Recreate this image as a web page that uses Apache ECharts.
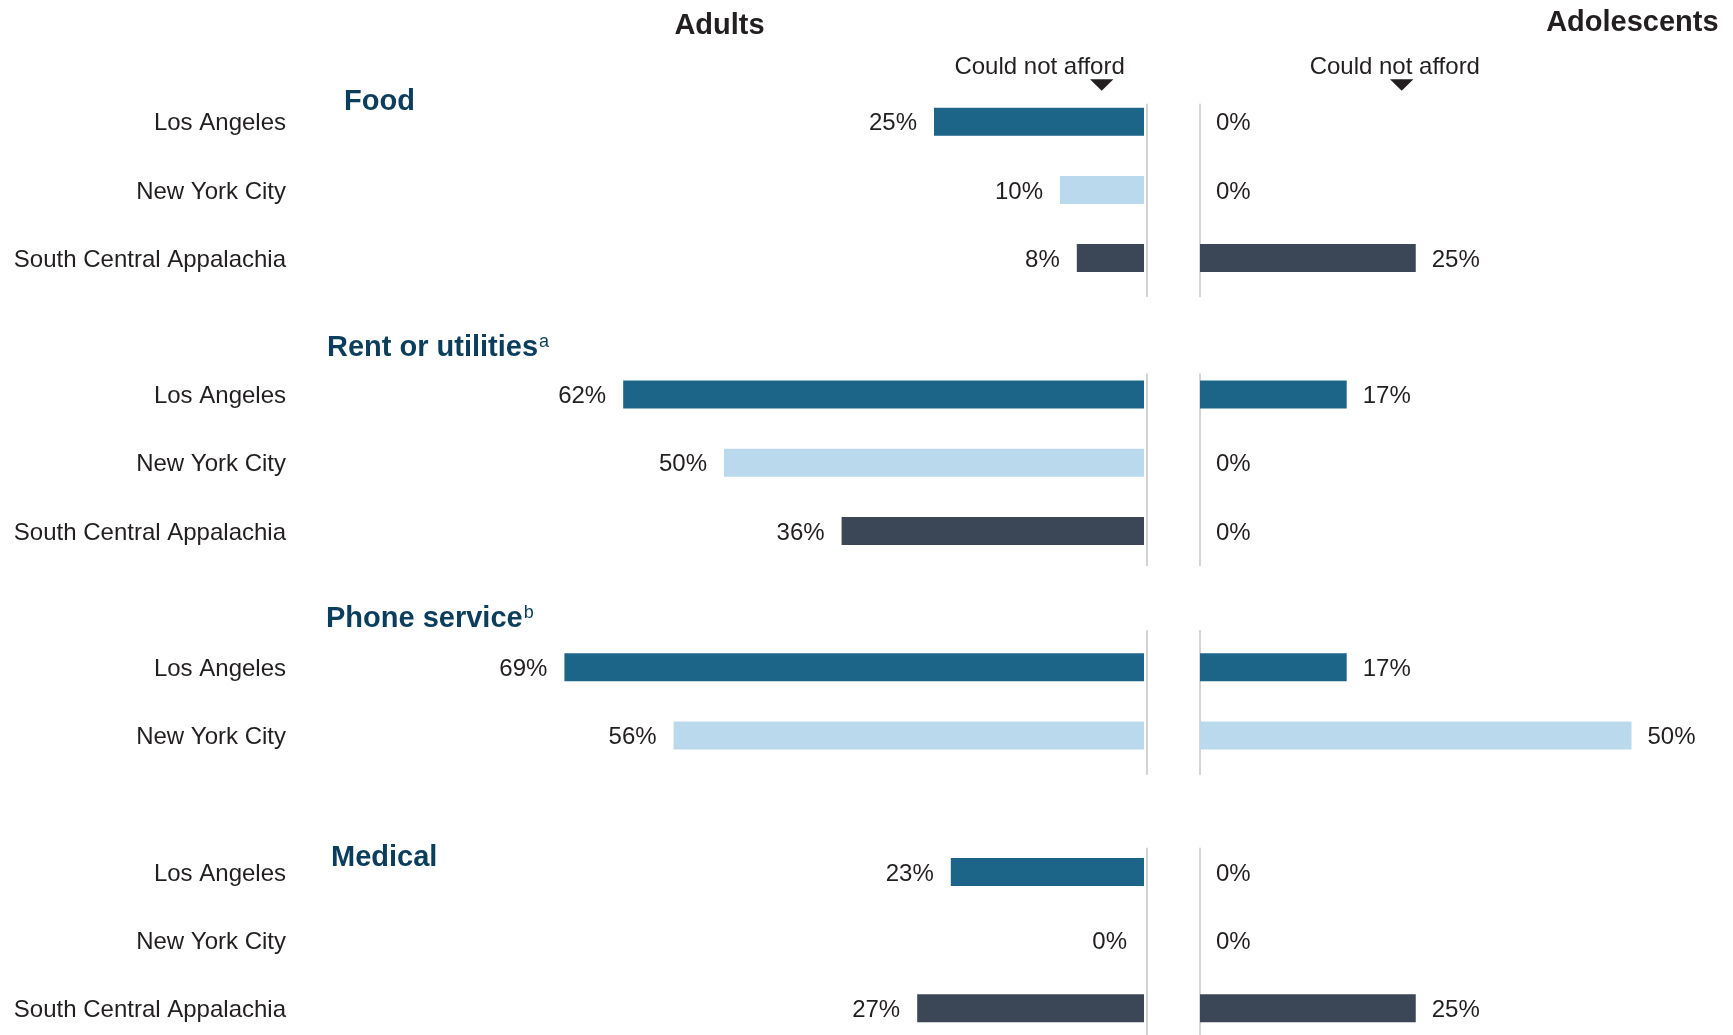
<!DOCTYPE html>
<html>
<head>
<meta charset="utf-8">
<style>
  html, body { margin: 0; padding: 0; background: #ffffff; }
  #chart { width: 1733px; height: 1035px; }
</style>
<script src="https://cdn.jsdelivr.net/npm/echarts@6/dist/echarts.min.js"></script>
</head>
<body>
<div id="chart"></div>
<script>
// ---------------- Data ----------------
const groupNames = ['Food', 'Rent or utilities', 'Phone service', 'Medical'];
const groupNotes = ['', 'a', 'b', ''];
const citiesFull = ['Los Angeles', 'New York City', 'South Central Appalachia'];
const citiesPhone = ['Los Angeles', 'New York City'];

const adultsFood = [25, 10, 8];
const adolescentsFood = [0, 0, 25];
const adultsRent = [62, 50, 36];
const adolescentsRent = [17, 0, 0];
const adultsPhone = [69, 56];
const adolescentsPhone = [17, 50];
const adultsMedical = [23, 0, 27];
const adolescentsMedical = [0, 0, 25];

const panelTitles = ['Adults', 'Adolescents'];
const markerText = 'Could not afford';

// ---------------- Styles / layout ----------------
const cityColors = {
  'Los Angeles': '#1d6489',
  'New York City': '#bad9ed',
  'South Central Appalachia': '#3b4657'
};
const FONT = '"Liberation Sans", Arial, Helvetica, sans-serif';
const TEXT = '#231f20';
const TITLE_BLUE = '#0b3d5c';
const LINE = '#c9c9c9';

const groups = [
  { cats: citiesFull, adults: adultsFood, adol: adolescentsFood, startRow: 0, line: [104.3, 296.5], title: [344, 102.3] },
  { cats: citiesFull, adults: adultsRent, adol: adolescentsRent, startRow: 4, line: [374, 565.5], title: [327, 348.4] },
  { cats: citiesPhone, adults: adultsPhone, adol: adolescentsPhone, startRow: 8, line: [630.7, 774.3], title: [326, 619.2] },
  { cats: citiesFull, adults: adultsMedical, adol: adolescentsMedical, startRow: 11, line: [848.3, 1060], title: [331, 857.8] }
];

const ROW = 68.2;
const ROW0_TOP = 87.6;
const ADULT_ZERO = 1144;      // pixel x of adults' zero
const ADULT_PX = 8.4;         // px per percent
const ADULT_MAX = 100;
const ADOL_ZERO = 1200;
const ADOL_PX = 8.63;
const ADOL_MAX = 60;
const ADULT_LINE_X = 1146.6;
const ADOL_LINE_X = 1199.3;

const grid = [], xAxis = [], yAxis = [], series = [];

groups.forEach((g, gi) => {
  const top = ROW0_TOP + g.startRow * ROW;
  const height = g.cats.length * ROW;
  const adultLeft = ADULT_ZERO - ADULT_MAX * ADULT_PX;

  // adults grid
  grid.push({ left: adultLeft, top: top, width: ADULT_MAX * ADULT_PX, height: height, containLabel: false, outerBoundsMode: 'none' });
  xAxis.push({ gridIndex: grid.length - 1, type: 'value', min: 0, max: ADULT_MAX, inverse: true, show: false });
  yAxis.push({
    gridIndex: grid.length - 1, type: 'category', data: g.cats, inverse: true, position: 'left',
    axisLine: { show: false, onZero: false }, axisTick: { show: false },
    axisLabel: {
      show: true, margin: adultLeft - 286, formatter: '{c|{value}}',
      rich: { c: { fontFamily: FONT, fontSize: 24, color: TEXT, padding: [4, 0, 0, 0] } }
    }
  });
  series.push({
    type: 'bar', xAxisIndex: grid.length - 1, yAxisIndex: grid.length - 1,
    barWidth: 28,
    data: g.adults.map((v, i) => ({ value: v, itemStyle: { color: cityColors[g.cats[i]] } })),
    label: { show: true, position: 'left', distance: 17, offset: [0, 2], formatter: '{c}%', fontFamily: FONT, fontSize: 24, color: TEXT },
    silent: true, animation: false
  });

  // adolescents grid
  grid.push({ left: ADOL_ZERO, top: top, width: ADOL_MAX * ADOL_PX, height: height, containLabel: false, outerBoundsMode: 'none' });
  xAxis.push({ gridIndex: grid.length - 1, type: 'value', min: 0, max: ADOL_MAX, show: false });
  yAxis.push({
    gridIndex: grid.length - 1, type: 'category', data: g.cats, inverse: true,
    axisLine: { show: false }, axisTick: { show: false }, axisLabel: { show: false }
  });
  series.push({
    type: 'bar', xAxisIndex: grid.length - 1, yAxisIndex: grid.length - 1,
    barWidth: 28,
    data: g.adol.map((v, i) => ({ value: v, itemStyle: { color: cityColors[g.cats[i]] } })),
    label: { show: true, position: 'right', distance: 16, offset: [0, 2], formatter: '{c}%', fontFamily: FONT, fontSize: 24, color: TEXT },
    silent: true, animation: false
  });
});

// Separate thin grids whose y axis lines draw the zero lines
groups.forEach((g) => {
  [ADULT_LINE_X, ADOL_LINE_X].forEach((lx) => {
    grid.push({ left: lx, top: g.line[0], width: 2, height: g.line[1] - g.line[0], outerBoundsMode: 'none' });
    xAxis.push({ gridIndex: grid.length - 1, type: 'value', min: 0, max: 1, show: false });
    yAxis.push({
      gridIndex: grid.length - 1, type: 'value', min: 0, max: 1, position: 'left',
      axisLine: { show: true, onZero: false, lineStyle: { color: LINE, width: 1.6 } },
      axisTick: { show: false }, axisLabel: { show: false }, splitLine: { show: false }
    });
  });
});

// Titles and annotations
const graphic = [];
graphic.push({
  type: 'text', x: 719.5, y: 25.6,
  style: { text: panelTitles[0], font: 'bold 29px ' + FONT, fill: TEXT, align: 'center', verticalAlign: 'middle' }
});
graphic.push({
  type: 'text', x: 1718.6, y: 23,
  style: { text: panelTitles[1], font: 'bold 29px ' + FONT, fill: TEXT, align: 'right', verticalAlign: 'middle' }
});
[[1039.6, 1101.7], [1394.8, 1401.7]].forEach(([tx, triX]) => {
  graphic.push({
    type: 'text', x: tx, y: 67.5,
    style: { text: markerText, font: '24px ' + FONT, fill: TEXT, align: 'center', verticalAlign: 'middle' }
  });
  graphic.push({
    type: 'polygon',
    shape: { points: [[triX - 11.7, 79.3], [triX + 11.7, 79.3], [triX, 90.7]] },
    style: { fill: '#231f20' }
  });
});
groups.forEach((g, gi) => {
  const note = groupNotes[gi];
  graphic.push({
    type: 'text', x: g.title[0], y: g.title[1],
    style: {
      text: '{t|' + groupNames[gi] + '}' + (note ? '{s|' + note + '}' : ''),
      align: 'left', verticalAlign: 'middle',
      rich: {
        t: { fontFamily: FONT, fontSize: 29, fontWeight: 'bold', fill: TITLE_BLUE, color: TITLE_BLUE, lineHeight: 30 },
        s: { fontFamily: FONT, fontSize: 18, fontWeight: 'normal', fill: TITLE_BLUE, color: TITLE_BLUE, lineHeight: 20, verticalAlign: 'top', padding: [0, 0, 0, 1] }
      }
    }
  });
});

const chart = echarts.init(document.getElementById('chart'), null, { renderer: 'canvas' });
chart.setOption({
  backgroundColor: '#ffffff',
  animation: false,
  grid: grid,
  xAxis: xAxis,
  yAxis: yAxis,
  series: series,
  graphic: graphic
});
</script>
</body>
</html>
